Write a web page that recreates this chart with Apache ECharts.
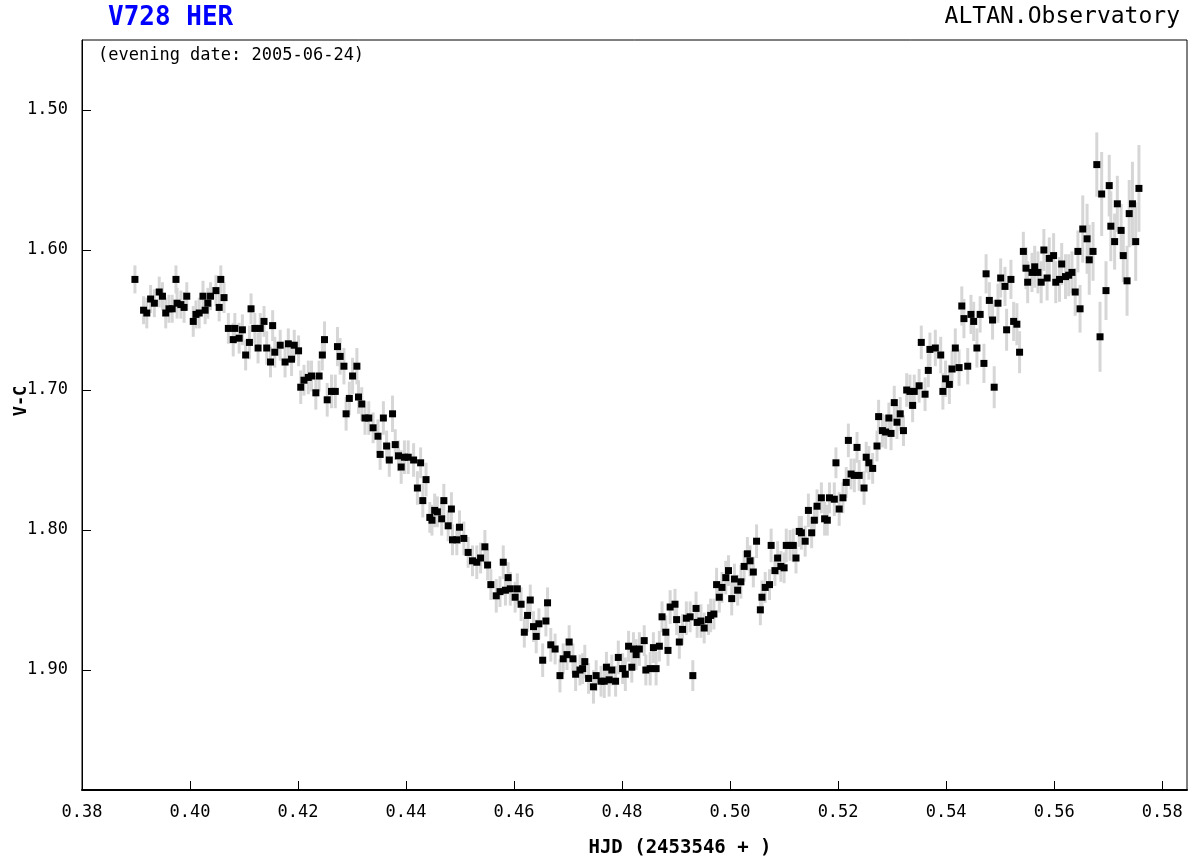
<!DOCTYPE html>
<html>
<head>
<meta charset="utf-8">
<title>V728 HER</title>
<script src="https://cdn.jsdelivr.net/npm/echarts@6/dist/echarts.min.js"></script>
<style>
html,body{margin:0;padding:0;background:#fff;}
#chart{width:1192px;height:858px;}
</style>
</head>
<body>
<div id="chart"></div>
<script>
// HJD - 2453546
const hjd = [
0.3898,0.3914,0.3920,0.3927,0.3934,0.3943,0.3949,0.3955,0.3961,0.3967,
0.3974,0.3976,0.3983,0.3989,0.3994,0.4006,0.4011,0.4017,0.4024,0.4028,
0.4033,0.4038,0.4048,0.4054,0.4057,0.4063,0.4071,0.4080,0.4083,0.4091,
0.4097,0.4103,0.4110,0.4113,0.4120,0.4126,0.4130,0.4137,0.4142,0.4149,
0.4153,0.4157,0.4167,0.4176,0.4182,0.4188,0.4193,0.4201,0.4205,0.4211,
0.4219,0.4225,0.4233,0.4239,0.4245,0.4249,0.4254,0.4262,0.4269,0.4273,
0.4278,0.4285,0.4289,0.4295,0.4301,0.4309,0.4312,0.4318,0.4324,0.4331,
0.4339,0.4348,0.4352,0.4358,0.4364,0.4369,0.4375,0.4380,0.4386,0.4391,
0.4397,0.4404,0.4414,0.4421,0.4427,0.4431,0.4437,0.4444,0.4448,0.4453,
0.4458,0.4466,0.4470,0.4478,0.4484,0.4486,0.4494,0.4499,0.4507,0.4515,
0.4523,0.4531,0.4538,0.4546,0.4551,0.4557,0.4567,0.4574,0.4580,0.4584,
0.4589,0.4593,0.4602,0.4606,0.4613,0.4619,0.4625,0.4630,0.4636,0.4641,
0.4646,0.4653,0.4659,0.4662,0.4668,0.4676,0.4685,0.4691,0.4698,0.4702,
0.4709,0.4714,0.4722,0.4727,0.4731,0.4738,0.4747,0.4752,0.4761,0.4767,
0.4771,0.4776,0.4781,0.4788,0.4793,0.4801,0.4806,0.4812,0.4818,0.4821,
0.4826,0.4832,0.4841,0.4844,0.4852,0.4858,0.4863,0.4869,0.4874,0.4881,
0.4885,0.4889,0.4898,0.4901,0.4906,0.4912,0.4919,0.4926,0.4931,0.4937,
0.4939,0.4946,0.4952,0.4960,0.4964,0.4970,0.4975,0.4980,0.4985,0.4992,
0.4997,0.5003,0.5008,0.5014,0.5020,0.5026,0.5032,0.5037,0.5043,0.5049,
0.5056,0.5059,0.5065,0.5073,0.5076,0.5083,0.5088,0.5094,0.5100,0.5104,
0.5111,0.5117,0.5122,0.5128,0.5132,0.5139,0.5145,0.5151,0.5156,0.5161,
0.5169,0.5175,0.5180,0.5184,0.5193,0.5196,0.5202,0.5209,0.5215,0.5219,
0.5224,0.5230,0.5235,0.5239,0.5248,0.5252,0.5257,0.5264,0.5272,0.5275,
0.5282,0.5288,0.5294,0.5298,0.5304,0.5309,0.5315,0.5321,0.5327,0.5333,
0.5338,0.5341,0.5350,0.5354,0.5361,0.5367,0.5370,0.5380,0.5390,0.5394,
0.5399,0.5406,0.5411,0.5417,0.5424,0.5429,0.5433,0.5440,0.5446,0.5451,
0.5457,0.5463,0.5470,0.5474,0.5480,0.5486,0.5489,0.5496,0.5501,0.5509,
0.5512,0.5520,0.5525,0.5531,0.5536,0.5543,0.5548,0.5551,0.5559,0.5564,
0.5570,0.5576,0.5581,0.5587,0.5591,0.5599,0.5603,0.5610,0.5614,0.5621,
0.5627,0.5633,0.5639,0.5644,0.5648,0.5653,0.5661,0.5665,0.5672,0.5679,
0.5685,0.5688,0.5696,0.5702,0.5705,0.5712,0.5717,0.5724,0.5728,0.5735,
0.5739,0.5745,0.5751,0.5757
];
// V-C magnitude
const vmc = [
1.621,1.643,1.645,1.635,1.638,1.630,1.633,1.645,1.642,1.642,
1.621,1.638,1.639,1.641,1.633,1.651,1.646,1.645,1.633,1.643,
1.638,1.633,1.629,1.641,1.621,1.634,1.656,1.664,1.656,1.663,
1.657,1.675,1.666,1.642,1.656,1.670,1.656,1.651,1.670,1.680,
1.654,1.673,1.668,1.680,1.667,1.678,1.668,1.672,1.698,1.693,
1.691,1.690,1.702,1.690,1.675,1.664,1.707,1.701,1.701,1.669,
1.676,1.683,1.717,1.706,1.690,1.683,1.705,1.710,1.720,1.720,
1.727,1.733,1.746,1.720,1.740,1.750,1.717,1.739,1.747,1.755,
1.748,1.748,1.750,1.770,1.752,1.779,1.764,1.791,1.793,1.786,
1.787,1.792,1.779,1.797,1.785,1.807,1.807,1.798,1.806,1.816,
1.822,1.823,1.820,1.812,1.825,1.839,1.847,1.844,1.823,1.843,
1.834,1.842,1.848,1.842,1.853,1.873,1.861,1.850,1.869,1.876,
1.867,1.893,1.865,1.852,1.882,1.885,1.904,1.892,1.889,1.880,
1.892,1.903,1.900,1.899,1.894,1.906,1.912,1.904,1.908,1.908,
1.898,1.907,1.900,1.908,1.891,1.899,1.903,1.883,1.898,1.885,
1.889,1.885,1.879,1.900,1.899,1.884,1.899,1.883,1.862,1.873,
1.886,1.855,1.853,1.864,1.880,1.871,1.863,1.862,1.904,1.856,
1.866,1.865,1.870,1.864,1.861,1.860,1.839,1.848,1.841,1.834,
1.829,1.849,1.835,1.843,1.837,1.826,1.817,1.822,1.830,1.808,
1.857,1.848,1.841,1.839,1.811,1.829,1.820,1.826,1.827,1.811,
1.811,1.811,1.820,1.801,1.802,1.808,1.786,1.802,1.793,1.783,
1.777,1.792,1.793,1.777,1.778,1.752,1.785,1.777,1.766,1.736,
1.760,1.761,1.741,1.761,1.770,1.748,1.752,1.756,1.740,1.719,
1.729,1.730,1.720,1.731,1.709,1.723,1.717,1.729,1.700,1.701,
1.711,1.701,1.697,1.666,1.703,1.686,1.671,1.670,1.675,1.701,
1.692,1.696,1.685,1.670,1.684,1.640,1.649,1.683,1.646,1.651,
1.670,1.646,1.681,1.617,1.636,1.650,1.698,1.638,1.620,1.626,
1.657,1.621,1.651,1.653,1.673,1.601,1.613,1.623,1.616,1.612,
1.616,1.623,1.600,1.620,1.606,1.604,1.623,1.621,1.610,1.619,
1.618,1.616,1.630,1.601,1.642,1.585,1.592,1.607,1.601,1.539,
1.662,1.560,1.629,1.554,1.583,1.594,1.567,1.586,1.604,1.622,
1.574,1.567,1.594,1.556
];
// error (half length of the grey bars)
const err = [
0.010,0.010,0.011,0.010,0.010,0.011,0.010,0.011,0.010,0.010,
0.010,0.011,0.010,0.011,0.010,0.011,0.010,0.011,0.011,0.010,
0.011,0.010,0.011,0.010,0.010,0.011,0.011,0.012,0.011,0.011,
0.011,0.011,0.012,0.011,0.011,0.011,0.011,0.011,0.012,0.011,
0.011,0.011,0.011,0.011,0.011,0.012,0.011,0.011,0.012,0.011,
0.012,0.011,0.012,0.011,0.011,0.013,0.012,0.012,0.012,0.014,
0.013,0.013,0.012,0.012,0.013,0.013,0.012,0.012,0.012,0.012,
0.011,0.012,0.011,0.012,0.011,0.012,0.013,0.011,0.011,0.012,
0.012,0.012,0.012,0.012,0.011,0.012,0.012,0.011,0.011,0.012,
0.011,0.012,0.012,0.011,0.012,0.011,0.011,0.012,0.012,0.011,
0.011,0.012,0.011,0.012,0.011,0.011,0.012,0.011,0.012,0.011,
0.011,0.012,0.011,0.011,0.012,0.011,0.012,0.011,0.011,0.012,
0.011,0.012,0.011,0.011,0.012,0.011,0.012,0.011,0.011,0.012,
0.011,0.012,0.011,0.011,0.012,0.011,0.012,0.011,0.011,0.012,
0.011,0.012,0.011,0.011,0.012,0.011,0.012,0.011,0.011,0.012,
0.011,0.012,0.011,0.011,0.012,0.011,0.012,0.011,0.011,0.012,
0.011,0.012,0.011,0.011,0.012,0.011,0.012,0.011,0.011,0.012,
0.011,0.012,0.011,0.011,0.012,0.011,0.012,0.011,0.011,0.012,
0.011,0.012,0.011,0.011,0.012,0.011,0.012,0.011,0.011,0.012,
0.011,0.012,0.011,0.011,0.012,0.011,0.012,0.011,0.011,0.012,
0.011,0.012,0.011,0.011,0.012,0.011,0.012,0.011,0.011,0.012,
0.011,0.012,0.011,0.011,0.012,0.011,0.012,0.011,0.011,0.012,
0.011,0.012,0.011,0.011,0.012,0.011,0.012,0.011,0.011,0.012,
0.012,0.012,0.011,0.012,0.012,0.012,0.012,0.011,0.012,0.012,
0.012,0.012,0.012,0.012,0.012,0.012,0.012,0.013,0.013,0.013,
0.013,0.014,0.013,0.014,0.013,0.014,0.014,0.013,0.014,0.014,
0.014,0.013,0.014,0.014,0.013,0.014,0.015,0.014,0.014,0.014,
0.015,0.014,0.014,0.015,0.015,0.014,0.015,0.015,0.014,0.015,
0.015,0.015,0.015,0.016,0.015,0.016,0.015,0.016,0.015,0.016,
0.015,0.015,0.017,0.015,0.017,0.024,0.025,0.025,0.021,0.023,
0.025,0.030,0.021,0.022,0.025,0.020,0.020,0.019,0.019,0.025,
0.024,0.030,0.028,0.031
];
const xTicks = [0.38,0.40,0.42,0.44,0.46,0.48,0.50,0.52,0.54,0.56,0.58];
const yTicks = [1.50,1.60,1.70,1.80,1.90];

const mono = 'DejaVu Sans Mono, Liberation Mono, monospace';
const pts = hjd.map((x, i) => [x, vmc[i], err[i]]);

const chart = echarts.init(document.getElementById('chart'), null, {renderer: 'canvas'});
chart.setOption({
  animation: false,
  backgroundColor: '#fff',
  grid: {left: 82, right: 5, top: 40, bottom: 68, show: true, borderColor: '#000', borderWidth: 1, backgroundColor: 'transparent'},
  xAxis: {
    type: 'value', min: 0.38, max: 0.5846,
    axisLine: {show: true, onZero: false, lineStyle: {color: '#000', width: 2}},
    axisTick: {show: true, inside: true, length: 9, customValues: xTicks, lineStyle: {color: '#000', width: 1}},
    axisLabel: {customValues: xTicks, formatter: v => v.toFixed(2), color: '#000', fontFamily: mono, fontSize: 17, margin: 14},
    splitLine: {show: false}
  },
  yAxis: {
    type: 'value', inverse: true, min: 1.45, max: 1.9857,
    axisLine: {show: true, onZero: false, lineStyle: {color: '#000', width: 1}},
    axisTick: {show: true, inside: true, length: 9, customValues: yTicks, lineStyle: {color: '#000', width: 1}},
    axisLabel: {customValues: yTicks, formatter: v => v.toFixed(2), color: '#000', fontFamily: mono, fontSize: 17, margin: 14},
    splitLine: {show: false}
  },
  graphic: [
    {type: 'text', left: 108, top: 5, style: {text: 'V728 HER', font: 'bold 26px ' + mono, fill: '#0000ff'}},
    {type: 'text', right: 12, top: 6, style: {text: 'ALTAN.Observatory', font: '23px ' + mono, fill: '#000'}},
    {type: 'text', left: 98, top: 47, style: {text: '(evening date: 2005-06-24)', font: '17px ' + mono, fill: '#000'}},
    {type: 'text', x: 22, y: 401, rotation: Math.PI / 2, style: {text: 'V-C', font: 'bold 17px ' + mono, fill: '#000', align: 'center', verticalAlign: 'middle'}},
    {type: 'text', x: 680, y: 848, style: {text: 'HJD (2453546 + )', font: 'bold 19px ' + mono, fill: '#000', align: 'center', verticalAlign: 'middle'}}
  ],
  series: [
    {
      type: 'custom',
      data: pts,
      encode: {x: 0, y: 1},
      z: 1,
      renderItem: function (params, api) {
        const x = api.value(0), y = api.value(1), e = api.value(2);
        const p1 = api.coord([x, y - e]);
        const p2 = api.coord([x, y + e]);
        return {type: 'line', shape: {x1: p1[0], y1: p1[1], x2: p2[0], y2: p2[1]}, style: {stroke: '#d6d6d6', lineWidth: 3}};
      }
    },
    {
      type: 'scatter',
      data: pts.map(p => [p[0], p[1]]),
      symbol: 'rect',
      symbolSize: 7,
      z: 3,
      itemStyle: {color: '#000', opacity: 1}
    }
  ]
});
</script>
</body>
</html>
